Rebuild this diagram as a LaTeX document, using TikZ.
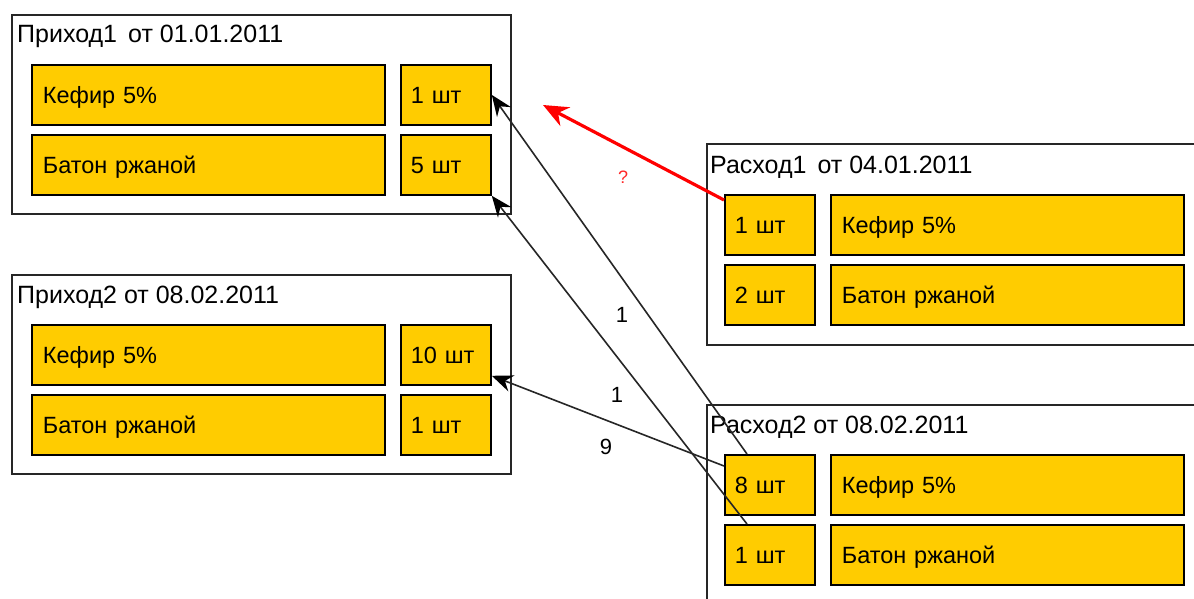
\documentclass[tikz,border=0pt]{standalone}
\usepackage{fontspec}
\setmainfont{Liberation Sans}
\usetikzlibrary{arrows.meta,calc}
\definecolor{boxyellow}{RGB}{255,204,0}
\definecolor{qred}{RGB}{255,0,0}
\definecolor{qlabel}{RGB}{255,40,40}
\newcommand\itemsize{\fontsize{23.5}{28}\selectfont}
\newcommand\titlesize{\fontsize{25}{30}\selectfont}
\begin{document}
\begin{tikzpicture}[x=1pt,y=-1pt,
 outerbox/.style={draw=black!85, line width=1.7pt, anchor=north west, inner sep=0pt},
 item/.style={draw=black, fill=boxyellow, line width=1.8pt, minimum height=60pt, inner ysep=0pt, align=left, font=\itemsize, text height=17pt, text depth=0pt, anchor=north west},
 namebox/.style={item, text width=331pt, inner xsep=11pt},
 qtybox/.style={item, text width=70pt, inner xsep=10pt},
 title/.style={font=\titlesize, anchor=base west, inner sep=0pt},
 link/.style={draw=black!85, line width=1.6pt, -{Stealth[length=21pt,width=17pt,inset=7pt,black]}},
 qlink/.style={draw=qred, line width=3.2pt, -{Stealth[length=25pt,width=21pt,inset=8pt]}},
 num/.style={font=\fontsize{22}{26}\selectfont, inner sep=0pt}
]
\useasboundingbox (0,0) rectangle (1194,599);
\fill[white] (0,0) rectangle (1194,599);
\clip (0,0) rectangle (1194,599);

% Prihod 1
\node[outerbox, minimum width=499pt, minimum height=199pt] (p1) at (11,14) {};
\node[title] (p1t) at (17,43) {Приход1\, от 01.01.2011};
\node[namebox] (p1n1) at (31,64) {Кефир 5\%};
\node[qtybox] (p1a) at (400,64) {1 шт};
\node[namebox] (p1n2) at (31,134) {Батон ржаной};
\node[qtybox] (p1b) at (400,134) {5 шт};

% Prihod 2
\node[outerbox, minimum width=499pt, minimum height=199pt] (p2) at (11,274) {};
\node[title] (p2t) at (17,303) {Приход2 от 08.02.2011};
\node[namebox] (p2n1) at (31,324) {Кефир 5\%};
\node[qtybox] (p2a) at (400,324) {10 шт};
\node[namebox] (p2n2) at (31,394) {Батон ржаной};
\node[qtybox] (p2b) at (400,394) {1 шт};

% Rashod 1
\node[outerbox, minimum width=520pt, minimum height=201pt] (r1) at (706,143) {};
\node[title] (r1t) at (710,173) {Расход1\, от 04.01.2011};
\node[qtybox] (r1a) at (724,194) {1 шт};
\node[namebox] (r1n1) at (830,194) {Кефир 5\%};
\node[qtybox] (r1b) at (724,264) {2 шт};
\node[namebox] (r1n2) at (830,264) {Батон ржаной};

% Rashod 2
\node[outerbox, minimum width=520pt, minimum height=240pt] (r2) at (706,404) {};
\node[title] (r2t) at (710,433) {Расход2 от 08.02.2011};
\node[qtybox] (r2a) at (724,454) {8 шт};
\node[namebox] (r2n1) at (830,454) {Кефир 5\%};
\node[qtybox] (r2b) at (724,524) {1 шт};
\node[namebox] (r2n2) at (830,524) {Батон ржаной};

% links
\draw[link] ($(r2a.north west)+(23,0)$) -- (p1a.east);
\draw[link] ($(r2b.north west)+(23,0)$) -- (p1b.south east);
\draw[link] ($(r2a.north west)+(0,12)$) -- ($(p2a.south east)+(0,-10)$);

\coordinate (qt) at (543,105);
\draw[qlink] ($(r1a.north west)+(0,6)$) -- (qt);

\node[num] (l1) at (622,315) {1};
\node[num] (l2) at (617,395) {1};
\node[num] (l3) at (606,447) {9};
\node[num, text=qlabel, font=\fontsize{18}{22}\selectfont] (lq) at (623,177) {?};
\end{tikzpicture}
\end{document}
